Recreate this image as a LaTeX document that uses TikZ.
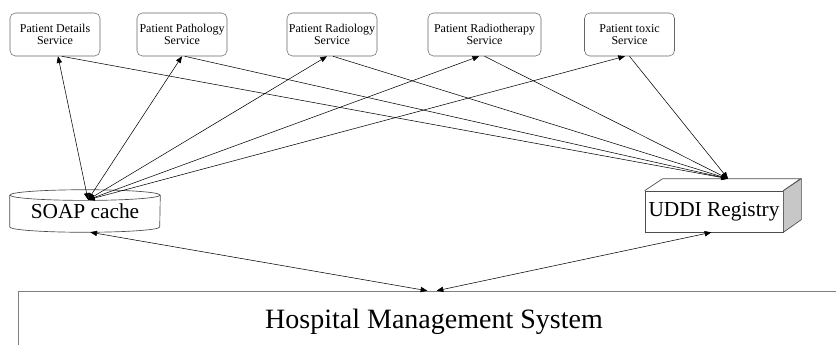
\documentclass[tikz,border=0pt]{standalone}
\usepackage{fontspec}
\setmainfont{Liberation Serif}
\usetikzlibrary{arrows.meta,calc}

\begin{document}
\begin{tikzpicture}[x=0.75pt,y=-0.75pt,
  svc/.style={draw=black!60,rounded corners=4pt,minimum width=67.5pt,
              minimum height=32.25pt,align=center,inner sep=0pt,
              font=\fontsize{9}{8.5}\selectfont},
  store/.style={minimum width=112.5pt,minimum height=31.5pt,inner sep=0pt,
              font=\fontsize{16}{18}\selectfont},
  box3d/.style={draw=black!70,line width=0.5pt},
  hms/.style={draw=black!50,minimum width=624pt,minimum height=46.5pt,
              inner sep=0pt,font=\fontsize{21}{24}\selectfont},
  link/.style={-{Triangle[length=5pt,width=4pt]},line width=0.4pt},
  twoway/.style={{Triangle[length=5pt,width=4pt]}-{Triangle[length=5pt,width=4pt]},
              line width=0.4pt}]
\useasboundingbox (0,0) rectangle (836,344);

% ---------------- top row: the services -------------------------------------
\node[svc] (details) at (55,34.5) {Patient Details\\Service};
\node[svc] (patho) at (182,34.5) {Patient Pathology\\Service};
\node[svc] (radio) at (332,34.5) {Patient Radiology\\Service};
\node[svc,minimum width=84.75pt] (therapy) at (484.5,34.5) {Patient Radiotherapy\\Service};
\node[svc] (toxic) at (629.5,34.5) {Patient toxic\\Service};

% ---------------- SOAP cache (cylinder) -------------------------------------
\node[store] (soap) at (85,211) {\raisebox{-3pt}{SOAP cache}};
\draw[box3d] ([yshift=-4pt]soap.north west) -- ([yshift=4pt]soap.south west)
  arc[start angle=180,end angle=360,x radius=56.25pt,y radius=4pt]
  -- ([yshift=-4pt]soap.north east);
\draw[box3d] ([yshift=-4pt]soap.north) ellipse[x radius=56.25pt,y radius=4pt];
\coordinate (soaptop) at ($(soap.north)+(3,10)$);

% ---------------- UDDI registry (box) ---------------------------------------
\node[store,box3d,minimum width=103.5pt,minimum height=30.75pt] (uddi)
  at (714,211.5) {UDDI Registry};
\draw[box3d] (uddi.north west) -- ++(18,-12) -- ++(138,0) -- (uddi.north east);
\filldraw[box3d,fill=black!22] (uddi.north east) -- ++(18,-12) -- ++(0,41)
  -- (uddi.south east) -- cycle;
\coordinate (udditop) at ($(uddi.north)+(14,-12)$);

% ---------------- bottom: the hospital system -------------------------------
\node[hms] (hosp) at (434,322) {Hospital Management System};

% ---------------- connectors ------------------------------------------------
\draw[twoway] (soaptop) -- ([xshift=2.25pt]details.south);
\draw[twoway] (soaptop) -- (patho.south);
\draw[twoway] (soaptop) -- ([xshift=-3.75pt]radio.south);
\draw[twoway] (soaptop) -- ([xshift=-4pt]therapy.south);
\draw[twoway] (soaptop) -- ([xshift=-3.4pt]toxic.south);

\draw[link] ([xshift=5pt]details.south) -- (udditop);
\draw[link] ([xshift=2pt]patho.south) -- (udditop);
\draw[link] ([xshift=0.75pt]radio.south) -- (udditop);
\draw[link] (therapy.south) -- (udditop);
\draw[link] (toxic.south) -- (udditop);

\draw[twoway] ([xshift=4pt]soap.south) -- ([xshift=-5pt]hosp.north);
\draw[twoway] ([xshift=-2pt]uddi.south) -- ([xshift=2pt]hosp.north);

\end{tikzpicture}
\end{document}
